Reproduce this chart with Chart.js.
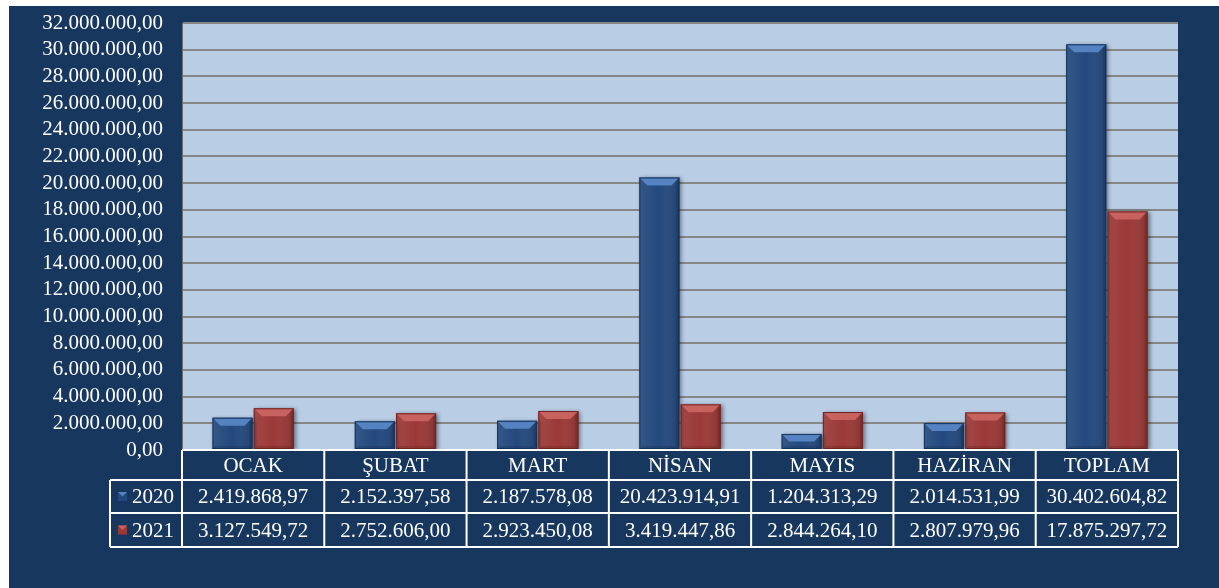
<!DOCTYPE html>
<html>
<head>
<meta charset="utf-8">
<script src="https://cdn.jsdelivr.net/npm/chart.js@4.4.1/dist/chart.umd.min.js"></script>
<style>
body { margin: 0; background: #ffffff; font-family: "Liberation Serif", "Times New Roman", serif; }
#wrap { position: absolute; left: 9px; top: 6px; width: 1210px; height: 582px; }
</style>
</head>
<body>
<div id="wrap"><canvas id="barChart" width="1210" height="582"></canvas></div>
<script>
// data
var categories = ["OCAK", "ŞUBAT", "MART", "NİSAN", "MAYIS", "HAZİRAN", "TOPLAM"];
var seriesNames = ["2020", "2021"];
var values2020 = [2419868.97, 2152397.58, 2187578.08, 20423914.91, 1204313.29, 2014531.99, 30402604.82];
var values2021 = [3127549.72, 2752606.00, 2923450.08, 3419447.86, 2844264.10, 2807979.96, 17875297.72];
var yMin = 0, yMax = 32000000, yStep = 2000000;

var navy = '#17375e';
var fills = ['#24497e', '#9b3937'];
var lights = ['#5582c0', '#c8625f'];
var darks = ['#163259', '#6e2423'];
var serif = '"Liberation Serif", "Times New Roman", serif';

function trFormat(v) {
  var s = Number(v).toFixed(2).split('.');
  return s[0].replace(/\B(?=(\d{3})+(?!\d))/g, '.') + ',' + s[1];
}

var bgPlugin = {
  id: 'bg',
  beforeDraw: function (chart) {
    var c = chart.ctx, a = chart.chartArea;
    c.save();
    c.fillStyle = navy;
    c.fillRect(0, 0, chart.width, chart.height);
    c.fillStyle = '#b9cde5';
    c.fillRect(a.left, a.top, a.right - a.left, a.bottom - a.top);
    c.restore();
  },
  beforeDatasetsDraw: function (chart) {
    var c = chart.ctx;
    c.save();
    c.shadowColor = 'rgba(0,0,0,0.45)';
    c.shadowBlur = 4;
    c.shadowOffsetX = 2;
    c.shadowOffsetY = 1;
  },
  afterDatasetsDraw: function (chart) {
    var c = chart.ctx;
    c.restore();
    // bevel
    chart.data.datasets.forEach(function (ds, di) {
      chart.getDatasetMeta(di).data.forEach(function (bar) {
        var l = bar.x - bar.width / 2, r = bar.x + bar.width / 2;
        var t = bar.y, b = bar.base;
        var bv = Math.min(8, (b - t) / 2);
        c.save();
        var g = c.createLinearGradient(l, 0, r, 0);
        g.addColorStop(0, 'rgba(255,255,255,0.08)');
        g.addColorStop(0.5, 'rgba(255,255,255,0)');
        g.addColorStop(1, 'rgba(0,0,0,0.15)');
        c.fillStyle = g;
        c.fillRect(l, t, r - l, b - t);
        c.fillStyle = lights[di];
        c.beginPath();
        c.moveTo(l, t); c.lineTo(r, t); c.lineTo(r - bv, t + bv); c.lineTo(l + bv, t + bv); c.closePath();
        c.fill();
        c.globalAlpha = 0.35;
        c.fillStyle = darks[di];
        c.beginPath();
        c.moveTo(r, t); c.lineTo(r - 3, t + 3); c.lineTo(r - 3, b - 3); c.lineTo(r, b); c.closePath();
        c.fill();
        c.beginPath();
        c.moveTo(l, b); c.lineTo(l + 3, b - 3); c.lineTo(r - 3, b - 3); c.lineTo(r, b); c.closePath();
        c.fill();
        c.globalAlpha = 1;
        c.strokeStyle = darks[di];
        c.lineWidth = 1;
        c.strokeRect(l + 0.5, t + 0.5, r - l - 1, b - t - 1);
        c.restore();
      });
    });
  }
};

var tablePlugin = {
  id: 'dataTable',
  afterDraw: function (chart) {
    var c = chart.ctx, a = chart.chartArea, xs = chart.scales.x;
    var colW = (a.right - a.left) / categories.length;
    var y0 = a.bottom, y1 = y0 + 30, y2 = y1 + 33, y3 = y2 + 34;
    var headL = 101;
    c.save();
    c.strokeStyle = '#ffffff';
    c.lineWidth = 2;
    c.fillStyle = '#ffffff';
    c.textAlign = 'center';
    c.textBaseline = 'middle';
    c.font = '21px ' + serif;
    c.beginPath();
    c.moveTo(a.left, y0); c.lineTo(a.right, y0);
    c.moveTo(headL, y1); c.lineTo(a.right, y1);
    c.moveTo(headL, y2); c.lineTo(a.right, y2);
    c.moveTo(headL, y3); c.lineTo(a.right, y3);
    c.moveTo(headL, y1); c.lineTo(headL, y3);
    for (var i = 0; i <= categories.length; i++) {
      var x = a.left + i * colW;
      c.moveTo(x, y0); c.lineTo(x, y3);
    }
    c.stroke();
    categories.forEach(function (cat, i) {
      var cx = xs.getPixelForValue(i);
      c.fillText(cat, cx, (y0 + y1) / 2 + 1);
      c.fillText(trFormat(values2020[i]), cx, (y1 + y2) / 2 + 1);
      c.fillText(trFormat(values2021[i]), cx, (y2 + y3) / 2 + 1);
    });
    // legend keys
    var rows = [(y1 + y2) / 2, (y2 + y3) / 2];
    seriesNames.forEach(function (name, di) {
      var tw = c.measureText(name).width;
      var total = 9 + 5 + tw;
      var sx = headL + (a.left - headL - total) / 2;
      var cy = rows[di];
      c.fillStyle = fills[di];
      c.fillRect(sx, cy - 4.5, 9, 9);
      c.fillStyle = lights[di];
      c.beginPath();
      c.moveTo(sx, cy - 4.5); c.lineTo(sx + 9, cy - 4.5); c.lineTo(sx + 4.5, cy); c.closePath();
      c.fill();
      c.fillStyle = '#ffffff';
      c.textAlign = 'left';
      c.fillText(name, sx + 14, cy + 1);
      c.textAlign = 'center';
    });
    c.restore();
  }
};

function draw() {
  var ctx = document.getElementById('barChart').getContext('2d');
  var myBarChart = new Chart(ctx, {
    type: 'bar',
    data: {
      labels: categories,
      datasets: [{
        label: seriesNames[0],
        data: values2020,
        backgroundColor: fills[0],
        borderWidth: 0
      }, {
        label: seriesNames[1],
        data: values2021,
        backgroundColor: fills[1],
        borderWidth: 0
      }]
    },
    options: {
      responsive: false,
      animation: false,
      devicePixelRatio: 1,
      layout: { padding: { left: 0, right: 41, top: 17, bottom: 138 } },
      datasets: { bar: { categoryPercentage: 0.58, barPercentage: 0.97 } },
      plugins: { legend: { display: false }, tooltip: { enabled: false } },
      scales: {
        x: { display: false },
        y: {
          min: yMin,
          max: yMax,
          afterFit: function (scale) { scale.width = 173; },
          ticks: {
            stepSize: yStep,
            padding: 2,
            color: '#ffffff',
            font: { family: serif, size: 21, lineHeight: 1 },
            callback: function (v) { return trFormat(v); }
          },
          grid: { color: '#868686', lineWidth: 2, drawTicks: true, tickLength: 17, tickColor: 'rgba(0,0,0,0)' },
          border: { display: true, color: '#6d6d6d', width: 1 }
        }
      }
    },
    plugins: [bgPlugin, tablePlugin]
  });
}

if (document.fonts && document.fonts.load) {
  Promise.all([
    document.fonts.load('21px "Liberation Serif"')
  ]).then(draw, draw);
} else {
  draw();
}
</script>
</body>
</html>
